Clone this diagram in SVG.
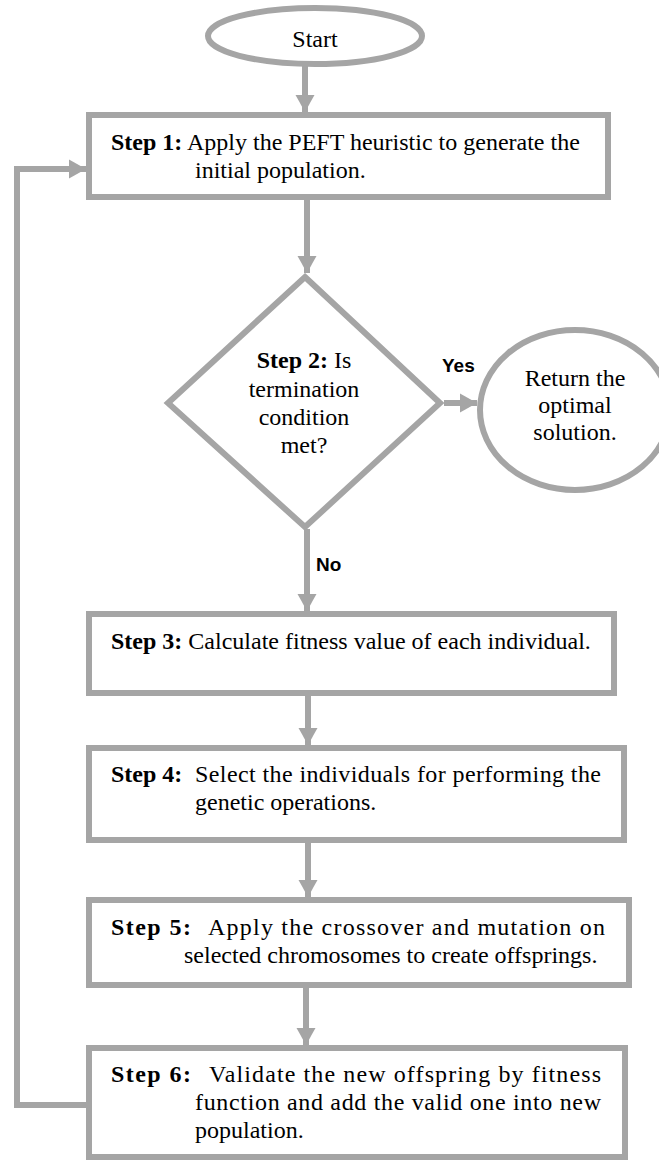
<svg xmlns="http://www.w3.org/2000/svg" width="659" height="1160" viewBox="0 0 659 1160">
<style>
.sh{fill:#fff;stroke:#a5a5a5;stroke-width:6}
.ln{fill:none;stroke:#a5a5a5;stroke-width:6}
.t{font-family:"Liberation Serif","Times New Roman",serif;font-size:24px;fill:#000}
.b{font-weight:bold}
.c{text-anchor:middle}
.lb{font-family:"Liberation Sans",Arial,sans-serif;font-size:19px;font-weight:bold;fill:#000}
</style>
<defs>
<marker id="ah" markerUnits="userSpaceOnUse" markerWidth="20" markerHeight="20" refX="17" refY="10" orient="auto">
<path d="M0,0.5 L17,10 L0,19.5 Z" fill="#a5a5a5"/>
</marker>
</defs>
<rect width="659" height="1160" fill="#fff"/>
<g id="connectors">
<line class="ln" x1="305" y1="66" x2="305" y2="112" marker-end="url(#ah)"/>
<line class="ln" x1="307" y1="200" x2="307" y2="273" marker-end="url(#ah)"/>
<line class="ln" x1="444" y1="403" x2="477" y2="403" marker-end="url(#ah)"/>
<line class="ln" x1="307" y1="529" x2="307" y2="611" marker-end="url(#ah)"/>
<line class="ln" x1="308" y1="696" x2="308" y2="745" marker-end="url(#ah)"/>
<line class="ln" x1="308" y1="843" x2="308" y2="897" marker-end="url(#ah)"/>
<line class="ln" x1="306" y1="988" x2="306" y2="1045" marker-end="url(#ah)"/>
<polyline class="ln" points="86,1105 17,1105 17,169 86,169" marker-end="url(#ah)"/>
<text class="lb" x="442" y="372">Yes</text>
<text class="lb" x="316" y="571">No</text>
</g>
<g id="start">
<ellipse class="sh" cx="315" cy="36" rx="107" ry="28"/>
<text class="t c" x="315" y="47">Start</text>
</g>
<g id="step1">
<rect class="sh" x="89" y="115" width="519" height="82"/>
<text class="t" x="111" y="150"><tspan class="b">Step 1:</tspan> Apply the PEFT heuristic to generate the</text>
<text class="t" x="195" y="178">initial population.</text>
</g>
<g id="step2">
<polygon class="sh" points="305,277 440,403 305,527 168,403"/>
<text class="t c" x="304" y="368"><tspan class="b">Step 2:</tspan> Is</text>
<text class="t c" x="304" y="397">termination</text>
<text class="t c" x="304" y="425">condition</text>
<text class="t c" x="304" y="453">met?</text>
</g>
<g id="result">
<ellipse class="sh" cx="575" cy="410" rx="95" ry="80"/>
<text class="t c" x="575" y="386">Return the</text>
<text class="t c" x="575" y="413">optimal</text>
<text class="t c" x="575" y="440">solution.</text>
</g>
<g id="step3">
<rect class="sh" x="89" y="614" width="525" height="79"/>
<text class="t" x="111" y="649"><tspan class="b">Step 3:</tspan> Calculate fitness value of each individual.</text>
</g>
<g id="step4">
<rect class="sh" x="89" y="748" width="535" height="92"/>
<text class="t b" x="111" y="782">Step 4:</text>
<text class="t" x="195" y="782" textLength="406" lengthAdjust="spacing">Select the individuals for performing the</text>
<text class="t" x="195" y="810">genetic operations.</text>
</g>
<g id="step5">
<rect class="sh" x="89" y="900" width="540" height="85"/>
<text class="t b" x="111" y="935" textLength="80" lengthAdjust="spacing">Step 5:</text>
<text class="t" x="208" y="935" textLength="397" lengthAdjust="spacing">Apply the crossover and mutation on</text>
<text class="t" x="184" y="963">selected chromosomes to create offsprings.</text>
</g>
<g id="step6">
<rect class="sh" x="89" y="1048" width="536" height="109"/>
<text class="t b" x="111" y="1082" textLength="80" lengthAdjust="spacing">Step 6:</text>
<text class="t" x="209" y="1082" textLength="392" lengthAdjust="spacing">Validate the new offspring by fitness</text>
<text class="t" x="195" y="1110" textLength="406" lengthAdjust="spacing">function and add the valid one into new</text>
<text class="t" x="195" y="1138">population.</text>
</g>
</svg>
